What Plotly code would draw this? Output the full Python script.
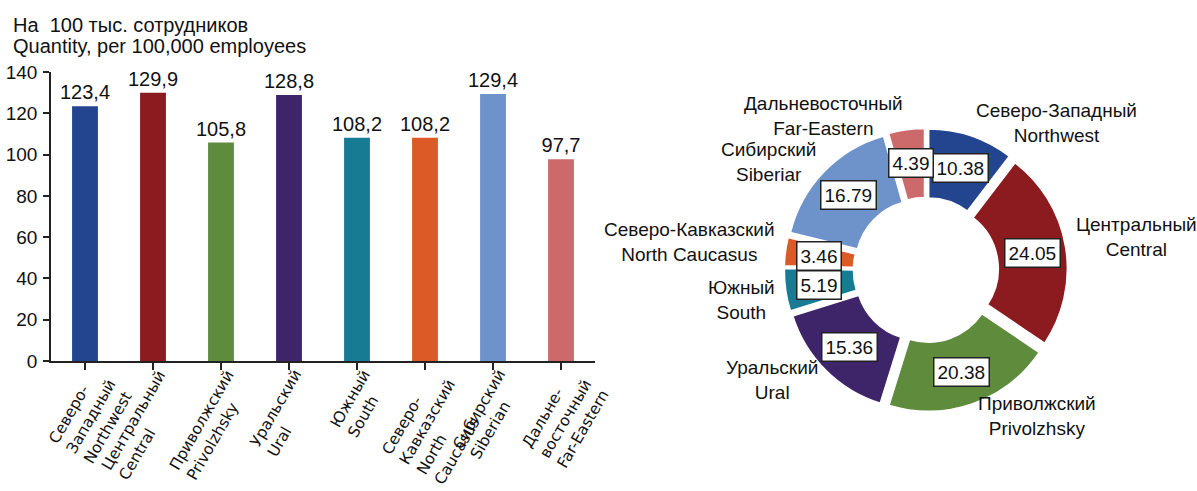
import numpy as np
import plotly.graph_objects as go

W, H = 1197, 491
FONT = "Liberation Sans, Arial, sans-serif"
LABEL_FONT = "DejaVu Sans, Liberation Sans, sans-serif"

# bar chart: rate per 100,000 employees
bar_regions = [
    "Северо-<br>Западный<br>Northwest",
    "Центральный<br>Central",
    "Приволжский<br>Privolzhsky",
    "Уральский<br>Ural",
    "Южный<br>South",
    "Северо-<br>Кавказский<br>North<br>Caucasus",
    "Сибирский<br>Siberian",
    "Дальне-<br>восточный<br>Far-Eastern",
]
rate_per_100k = [123.4, 129.9, 105.8, 128.8, 108.2, 108.2, 129.4, 97.7]

# donut: share of total, %
donut_regions = [
    "Северо-Западный<br>Northwest",
    "Центральный<br>Central",
    "Приволжский<br>Privolzhsky",
    "Уральский<br>Ural",
    "Южный<br>South",
    "Северо-Кавказский<br>North Caucasus",
    "Сибирский<br>Siberiar",
    "Дальневосточный<br>Far-Eastern",
]
share_pct = [10.38, 24.05, 20.38, 15.36, 5.19, 3.46, 16.79, 4.39]

colors = ["#23448f", "#8c1b1f", "#5f8b3c", "#3e2569",
          "#177b94", "#dc5a26", "#6e93cb", "#cc6a6b"]

fig = go.Figure()

fig.add_trace(go.Bar(
    x=list(range(len(rate_per_100k))),
    y=rate_per_100k,
    width=0.38,
    marker=dict(color=colors, line=dict(width=0)),
    texttemplate="%{y:.1f}",
    textposition="outside",
    constraintext="none",
    textfont=dict(size=20, color="#111"),
    cliponaxis=False,
    showlegend=False,
    hoverinfo="skip",
))

# donut geometry (paper coords)
dom_x = [0.655, 0.892]
dom_y = [0.161, 0.739]
hole = 0.48
pull = 0.06

fig.add_trace(go.Pie(
    values=share_pct,
    labels=donut_regions,
    sort=False,
    direction="clockwise",
    rotation=0,
    hole=hole,
    pull=pull,
    textinfo="none",
    marker=dict(colors=colors, line=dict(color="white", width=2)),
    domain=dict(x=dom_x, y=dom_y),
    showlegend=False,
    hoverinfo="skip",
))

annotations = []

# rotated, left-aligned category labels; the top corner of each block sits under its bar
angle = 60
lab_size = 15.5
line_h = 1.3 * lab_size
for i, lab in enumerate(bar_regions):
    n_lines = lab.count("<br>") + 1
    annotations.append(dict(
        x=i, y=1 - 364 / H, xref="x", yref="paper",
        text=lab, textangle=-angle, align="left",
        xanchor="right", yanchor="top", showarrow=False,
        xshift=np.sin(np.radians(angle)) * (n_lines * line_h + 2),
        font=dict(size=lab_size, color="#111", family=LABEL_FONT),
    ))

# boxed value labels placed at each slice's mid-angle
shares = np.array(share_pct)
cum = np.cumsum(np.concatenate([[0], shares[:-1]]))
mid = 2 * np.pi * (cum + shares / 2) / shares.sum()
cx = (dom_x[0] + dom_x[1]) / 2 * W
cy = (1 - (dom_y[0] + dom_y[1]) / 2) * H
r_out = min((dom_x[1] - dom_x[0]) * W, (dom_y[1] - dom_y[0]) * H) / 2 / (1 + pull)
r_box = r_out * ((1 + hole) / 2 + pull) + 1

for v, a in zip(share_pct, mid):
    px = cx + r_box * np.sin(a)
    py = cy - r_box * np.cos(a)
    annotations.append(dict(
        x=px / W, y=1 - py / H, xref="paper", yref="paper",
        text=f"{v:.2f}", showarrow=False,
        font=dict(size=19, color="#111"),
        bgcolor="white", bordercolor="#222", borderwidth=1.5, borderpad=3,
        xanchor="center", yanchor="middle",
    ))

# region names outside the ring; the near-horizontal ones are spread apart a little
rx, ry = r_out * 1.12, r_out * 1.16
for lab, a in zip(donut_regions, mid):
    px = cx + rx * np.sin(a)
    spread = 8 * np.sign(np.cos(a)) if abs(np.sin(a)) > 0.9 else 0
    py = cy - ry * np.cos(a) - spread
    annotations.append(dict(
        x=px / W, y=1 - py / H, xref="paper", yref="paper",
        text=lab, showarrow=False, align="center",
        xanchor="left" if np.sin(a) > 0 else "right", yanchor="middle",
        font=dict(size=19, color="#111"),
    ))

annotations += [
    dict(x=0.009, y=1 - 25 / H, xref="paper", yref="paper", text="На  100 тыс. сотрудников",
         showarrow=False, xanchor="left", yanchor="middle", font=dict(size=20, color="#111")),
    dict(x=0.009, y=1 - 46 / H, xref="paper", yref="paper", text="Quantity, per 100,000 employees",
         showarrow=False, xanchor="left", yanchor="middle", font=dict(size=20, color="#111")),
]

fig.update_layout(
    width=W, height=H,
    template="none",
    separators=", ",
    font=dict(family=FONT, size=19, color="#111"),
    margin=dict(l=0, r=0, t=0, b=0),
    paper_bgcolor="white",
    plot_bgcolor="white",
    bargap=0.62,
    xaxis=dict(
        domain=[51 / W, 595 / W],
        range=[-0.5, 7.5],
        tickmode="array",
        tickvals=list(range(len(bar_regions))),
        showticklabels=False,
        tickson="boundaries",
        ticks="outside", ticklen=7, tickcolor="#222", tickwidth=1.5,
        showline=True, linecolor="#222", linewidth=1.5,
        showgrid=False, zeroline=False,
        automargin=False,
    ),
    yaxis=dict(
        domain=[1 - 361 / H, 1 - 72 / H],
        range=[0, 140],
        dtick=20,
        ticks="outside", ticklen=6, tickcolor="#222", tickwidth=1.5,
        showline=True, linecolor="#222", linewidth=1.5,
        showgrid=False, zeroline=False,
        tickfont=dict(size=19, color="#111"),
        ticklabelstandoff=2,
        automargin=False,
    ),
    annotations=annotations,
)

# drop the page's default body margin so the figure sits at the window origin
fig.write_html(
    "out.html",
    config={"displayModeBar": False},
    post_script="document.body.style.margin='0';",
)
